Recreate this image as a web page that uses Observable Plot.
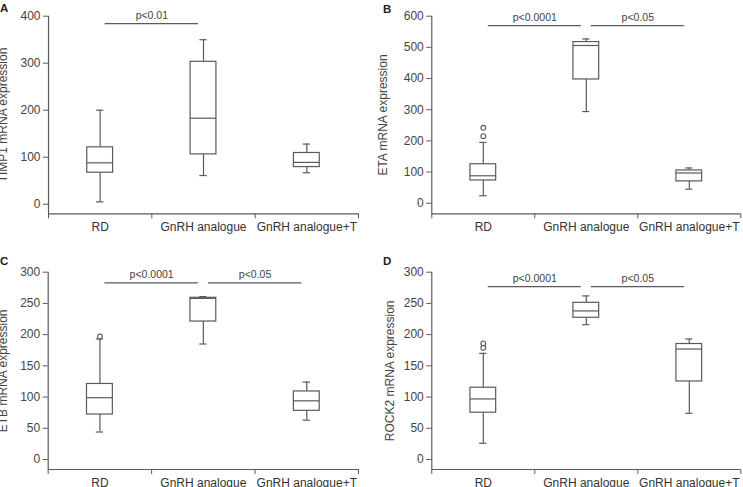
<!DOCTYPE html>
<html><head><meta charset="utf-8">
<script src="https://cdn.jsdelivr.net/npm/d3@7"></script>
<script src="https://cdn.jsdelivr.net/npm/@observablehq/plot@0.6"></script>
<style>
body{margin:0;background:#fff;}
#wrap{position:relative;width:743px;height:487px;overflow:hidden;background:#fff;font-family:Arial,"Liberation Sans",sans-serif;}
.panel{position:absolute;}
.tag{position:absolute;font-weight:bold;font-size:11.5px;line-height:1;color:#222;}
</style></head><body><div id="wrap"></div>
<script>
const groups = ["RD", "GnRH analogue", "GnRH analogue+T"];

// Panel A: TIMP1
const timp1Low    = [5, 61, 67];
const timp1Q1     = [67, 106, 79];
const timp1Median = [88, 183, 89];
const timp1Q3     = [121, 303, 109];
const timp1High   = [200, 350, 128];
const timp1OutGroup = [];
const timp1OutValue = [];
const timp1Ticks = [0, 100, 200, 300, 400];
const timp1SigFrom = [0], timp1SigTo = [1], timp1SigY = [384], timp1SigLabel = ["p<0.01"];

// Panel B: ETA
const etaLow    = [24, 294, 45];
const etaQ1     = [73, 397, 70];
const etaMedian = [88, 506, 97];
const etaQ3     = [125, 517, 105];
const etaHigh   = [195, 527, 113];
const etaOutGroup = [0, 0];
const etaOutValue = [242, 215];
const etaTicks = [0, 100, 200, 300, 400, 500, 600];
const etaSigFrom = [0, 1], etaSigTo = [1, 2], etaSigY = [570, 570], etaSigLabel = ["p<0.0001", "p<0.05"];

// Panel C: ETB
const etbLow    = [44, 185, 63];
const etbQ1     = [72, 221, 78];
const etbMedian = [99, 258, 94];
const etbQ3     = [121, 259, 109];
const etbHigh   = [193, 261, 124];
const etbOutGroup = [0];
const etbOutValue = [197];
const etbTicks = [0, 50, 100, 150, 200, 250, 300];
const etbSigFrom = [0, 1], etbSigTo = [1, 2], etbSigY = [283, 283], etbSigLabel = ["p<0.0001", "p<0.05"];

// Panel D: ROCK2
const rock2Low    = [26, 216, 74];
const rock2Q1     = [75, 227, 125];
const rock2Median = [97, 238, 177];
const rock2Q3     = [115, 251, 185];
const rock2High   = [170, 262, 193];
const rock2OutGroup = [0, 0];
const rock2OutValue = [186, 179];
const rock2Ticks = [0, 50, 100, 150, 200, 250, 300];
const rock2SigFrom = [0, 1], rock2SigTo = [1, 2], rock2SigY = [277, 277], rock2SigLabel = ["p<0.0001", "p<0.05"];

function stats(low, q1, med, q3, high) {
  return groups.map((g, i) => ({i, g, low: low[i], q1: q1[i], med: med[i], q3: q3[i], high: high[i]}));
}
function outs(gs, vs) { return gs.map((g, k) => ({i: g, v: vs[k]})); }
function sigs(f, t, y, l) { return f.map((d, k) => ({from: d, to: t[k], y: y[k], label: l[k]})); }

const panels = [
  {tag: "A", left: 0, top: 0, width: 372, height: 240, mt: 15.7, mb: 26.7, ml: 48, mr: 14, yMin: -20.4, yMax: 400,
   ticks: timp1Ticks, label: "TIMP1 mRNA expression", labelOff: 45,
   box: stats(timp1Low, timp1Q1, timp1Median, timp1Q3, timp1High), out: outs(timp1OutGroup, timp1OutValue),
   sig: sigs(timp1SigFrom, timp1SigTo, timp1SigY, timp1SigLabel)},
  {tag: "B", left: 372, top: 0, width: 371, height: 240, mt: 15.7, mb: 26.7, ml: 59.3, mr: 2.7, yMin: -34, yMax: 600,
   ticks: etaTicks, label: "ETA mRNA expression", labelOff: 49,
   box: stats(etaLow, etaQ1, etaMedian, etaQ3, etaHigh), out: outs(etaOutGroup, etaOutValue),
   sig: sigs(etaSigFrom, etaSigTo, etaSigY, etaSigLabel)},
  {tag: "C", left: 0, top: 250, width: 372, height: 237, mt: 21.7, mb: 18, ml: 47.7, mr: 14, yMin: -16, yMax: 300,
   ticks: etbTicks, label: "ETB mRNA expression", labelOff: 45,
   box: stats(etbLow, etbQ1, etbMedian, etbQ3, etbHigh), out: outs(etbOutGroup, etbOutValue),
   sig: sigs(etbSigFrom, etbSigTo, etbSigY, etbSigLabel)},
  {tag: "D", left: 372, top: 250, width: 371, height: 237, mt: 21.7, mb: 18, ml: 59.3, mr: 2.7, yMin: -16, yMax: 300,
   ticks: rock2Ticks, label: "ROCK2 mRNA expression", labelOff: 42,
   box: stats(rock2Low, rock2Q1, rock2Median, rock2Q3, rock2High), out: outs(rock2OutGroup, rock2OutValue),
   sig: sigs(rock2SigFrom, rock2SigTo, rock2SigY, rock2SigLabel)}
];

const tagPos = {A: [0, 3], B: [383, 4], C: [0, 256], D: [383, 256]};
const wrap = document.getElementById("wrap");
const LINE = "#5a5a5a";
const HALF = 0.125, CAP = 0.035;

for (const p of panels) {
  const chart = Plot.plot({
    width: p.width, height: p.height,
    marginTop: p.mt, marginBottom: p.mb, marginLeft: p.ml, marginRight: p.mr,
    x: {type: "linear", domain: [-0.5, 2.5]},
    y: {domain: [p.yMin, p.yMax], nice: false},
    style: {fontFamily: 'Arial, "Liberation Sans", sans-serif', fontSize: "12px", color: "#444", background: "transparent", overflow: "visible"},
    marks: [
      // axis lines
      Plot.ruleX([-0.5], {y1: p.yMin, y2: p.yMax, stroke: LINE, strokeWidth: 1.2}),
      Plot.ruleY([p.yMin], {x1: -0.5, x2: 2.5, stroke: LINE, strokeWidth: 1.2}),
      Plot.axisY({ticks: p.ticks, tickSize: 5, tickPadding: 3, label: null, stroke: LINE, fill: "#444", fontSize: 12}),
      Plot.axisX({ticks: [-0.5, 0.5, 1.5, 2.5], tickSize: 5, tickFormat: () => "", label: null, stroke: LINE}),
      Plot.axisX({ticks: [0, 1, 2], tickSize: 0, tickPadding: 8.5, tickFormat: (i) => groups[i], label: null, fill: "#333", fontSize: 12}),
      // y label
      Plot.text([p.label], {frameAnchor: "left", textAnchor: "middle", lineAnchor: "middle", dx: -p.labelOff, rotate: -90, fontSize: 12, fill: "#444"}),
      // whiskers
      Plot.ruleX(p.box, {x: "i", y1: "low", y2: "q1", stroke: LINE, strokeWidth: 1.2}),
      Plot.ruleX(p.box, {x: "i", y1: "q3", y2: "high", stroke: LINE, strokeWidth: 1.2}),
      Plot.ruleY(p.box, {y: "low", x1: (d) => d.i - CAP, x2: (d) => d.i + CAP, stroke: LINE, strokeWidth: 1.2}),
      Plot.ruleY(p.box, {y: "high", x1: (d) => d.i - CAP, x2: (d) => d.i + CAP, stroke: LINE, strokeWidth: 1.2}),
      // boxes
      Plot.rect(p.box, {x1: (d) => d.i - HALF, x2: (d) => d.i + HALF, y1: "q1", y2: "q3", fill: "white", stroke: LINE, strokeWidth: 1.2}),
      Plot.ruleY(p.box, {y: "med", x1: (d) => d.i - HALF, x2: (d) => d.i + HALF, stroke: LINE, strokeWidth: 1.2}),
      // outliers
      Plot.dot(p.out, {x: "i", y: "v", r: 2.4, stroke: LINE, strokeWidth: 1.1, fill: "white"}),
      // significance bars
      Plot.ruleY(p.sig, {y: "y", x1: "from", x2: "to", insetLeft: 5, insetRight: 5, stroke: LINE, strokeWidth: 1.2}),
      Plot.text(p.sig, {x: (d) => (d.from + d.to) / 2, y: "y", text: "label", dy: -8, fontSize: 10.5, fill: "#444"})
    ]
  });
  chart.classList.add("panel");
  chart.style.left = p.left + "px";
  chart.style.top = p.top + "px";
  wrap.appendChild(chart);
  const t = document.createElement("div");
  t.className = "tag";
  t.textContent = p.tag;
  t.style.left = tagPos[p.tag][0] + "px";
  t.style.top = tagPos[p.tag][1] + "px";
  wrap.appendChild(t);
}
</script></body></html>
